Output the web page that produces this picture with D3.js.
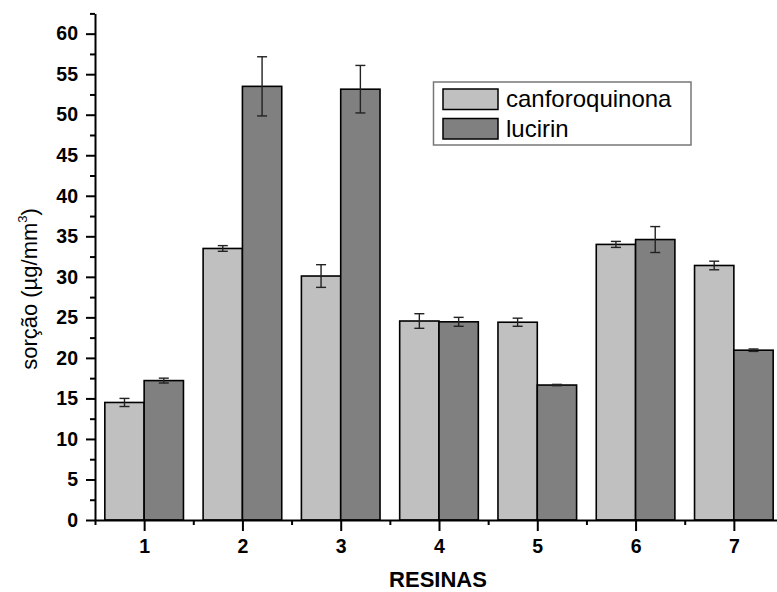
<!DOCTYPE html>
<html>
<head>
<meta charset="utf-8">
<script src="https://cdn.jsdelivr.net/npm/d3@7"></script>
<style>
body { margin: 0; background: #fff; }
svg { font-family: "Liberation Sans", Arial, sans-serif; }
</style>
</head>
<body>
<svg id="chart" width="777" height="592"></svg>
<script>
var resinas = [1, 2, 3, 4, 5, 6, 7];
var series = ["canforoquinona", "lucirin"];
var canforoquinona = [14.5, 33.5, 30.1, 24.55, 24.4, 34.0, 31.4];
var canforoquinonaErr = [0.5, 0.35, 1.4, 0.9, 0.5, 0.37, 0.53];
var lucirin = [17.2, 53.5, 53.15, 24.45, 16.65, 34.6, 20.95];
var lucirinErr = [0.3, 3.65, 2.93, 0.55, 0.08, 1.6, 0.15];
var yTicks = [0, 5, 10, 15, 20, 25, 30, 35, 40, 45, 50, 55, 60];

var colors = ["#c0c0c0", "#808080"];

var svg = d3.select("#chart");

var x = d3.scaleLinear()
	.domain([0.5, 7.5])
	.range([95, 783]);

var y = d3.scaleLinear()
	.domain([0, 62.5])
	.range([520, 13.4]);

var barW = 0.4;

// bars
var data = [];
resinas.forEach(function(r, i) {
	data.push({ r: r, s: 0, v: canforoquinona[i], e: canforoquinonaErr[i] });
	data.push({ r: r, s: 1, v: lucirin[i], e: lucirinErr[i] });
});

svg.selectAll("rect.bar")
	.data(data)
	.enter()
	.append("rect")
		.attr("class", "bar")
		.attr("x", function(d) { return d.s == 0 ? x(d.r - barW) : x(d.r); })
		.attr("y", function(d) { return y(d.v); })
		.attr("width", x(barW) - x(0))
		.attr("height", function(d) { return y(0) - y(d.v); })
		.attr("fill", function(d) { return colors[d.s]; })
		.attr("stroke", "#000")
		.attr("stroke-width", 1.6);

// error bars
var err = svg.selectAll("g.err")
	.data(data)
	.enter()
	.append("g")
		.attr("class", "err")
		.attr("stroke", "#222")
		.attr("stroke-width", 1.4);

function cx(d) { return d.s == 0 ? x(d.r - barW / 2) : x(d.r + barW / 2); }

err.append("line")
	.attr("x1", cx).attr("x2", cx)
	.attr("y1", function(d) { return y(d.v + d.e); })
	.attr("y2", function(d) { return y(d.v - d.e); });

err.append("line")
	.attr("x1", function(d) { return cx(d) - 5; })
	.attr("x2", function(d) { return cx(d) + 5; })
	.attr("y1", function(d) { return y(d.v + d.e); })
	.attr("y2", function(d) { return y(d.v + d.e); });

err.append("line")
	.attr("x1", function(d) { return cx(d) - 5; })
	.attr("x2", function(d) { return cx(d) + 5; })
	.attr("y1", function(d) { return y(d.v - d.e); })
	.attr("y2", function(d) { return y(d.v - d.e); });

// X axis
var xAxis = svg.append("g")
	.attr("transform", "translate(0,520)")
	.call(d3.axisBottom(x).tickValues(resinas).tickFormat(d3.format("d"))
		.tickSize(11).tickSizeOuter(0).tickPadding(8));

svg.append("g")
	.attr("transform", "translate(0,520)")
	.call(d3.axisBottom(x).tickValues([0.5, 1.5, 2.5, 3.5, 4.5, 5.5, 6.5]).tickSize(5).tickFormat(""))
	.select(".domain").remove();

xAxis.selectAll("text")
	.attr("font-size", 19.5)
	.attr("font-weight", "bold")
	.attr("fill", "#000");

// Y axis
var yAxis = svg.append("g")
	.attr("transform", "translate(95,0)")
	.call(d3.axisLeft(y).tickValues(yTicks).tickSize(9).tickSizeOuter(0).tickPadding(8));

svg.append("g")
	.attr("transform", "translate(95,0)")
	.call(d3.axisLeft(y).tickValues(yTicks.map(function(t) { return t + 2.5; })).tickSize(5).tickFormat(""))
	.select(".domain").remove();

yAxis.selectAll("text")
	.attr("font-size", 19.5)
	.attr("font-weight", "bold")
	.attr("fill", "#000");

svg.selectAll(".domain, .tick line")
	.attr("stroke", "#000")
	.attr("stroke-width", 2);

// axis titles
svg.append("text")
	.attr("x", 438)
	.attr("y", 587)
	.attr("text-anchor", "middle")
	.attr("font-size", 22)
	.attr("font-weight", "bold")
	.text("RESINAS");

var yt = svg.append("text")
	.attr("transform", "translate(37,289)rotate(-90)")
	.attr("text-anchor", "middle")
	.attr("font-size", 22);
yt.append("tspan").text("sorção (µg/mm");
yt.append("tspan").attr("font-size", 13).attr("dy", -10).text("3");
yt.append("tspan").attr("dy", 10).text(")");

// legend
svg.append("rect")
	.attr("x", 433.5)
	.attr("y", 82)
	.attr("width", 257.5)
	.attr("height", 63)
	.attr("fill", "#fff")
	.attr("stroke", "#777")
	.attr("stroke-width", 1.5);

var leg = svg.selectAll("g.leg")
	.data(series)
	.enter()
	.append("g")
		.attr("class", "leg")
		.attr("transform", function(d, i) { return "translate(443," + (89 + i * 29.5) + ")"; });

leg.append("rect")
	.attr("width", 55)
	.attr("height", 20.5)
	.attr("fill", function(d, i) { return colors[i]; })
	.attr("stroke", "#000")
	.attr("stroke-width", 1.5);

leg.append("text")
	.attr("x", 63)
	.attr("y", 18)
	.attr("font-size", 24)
	.text(function(d) { return d; });
</script>
</body>
</html>
